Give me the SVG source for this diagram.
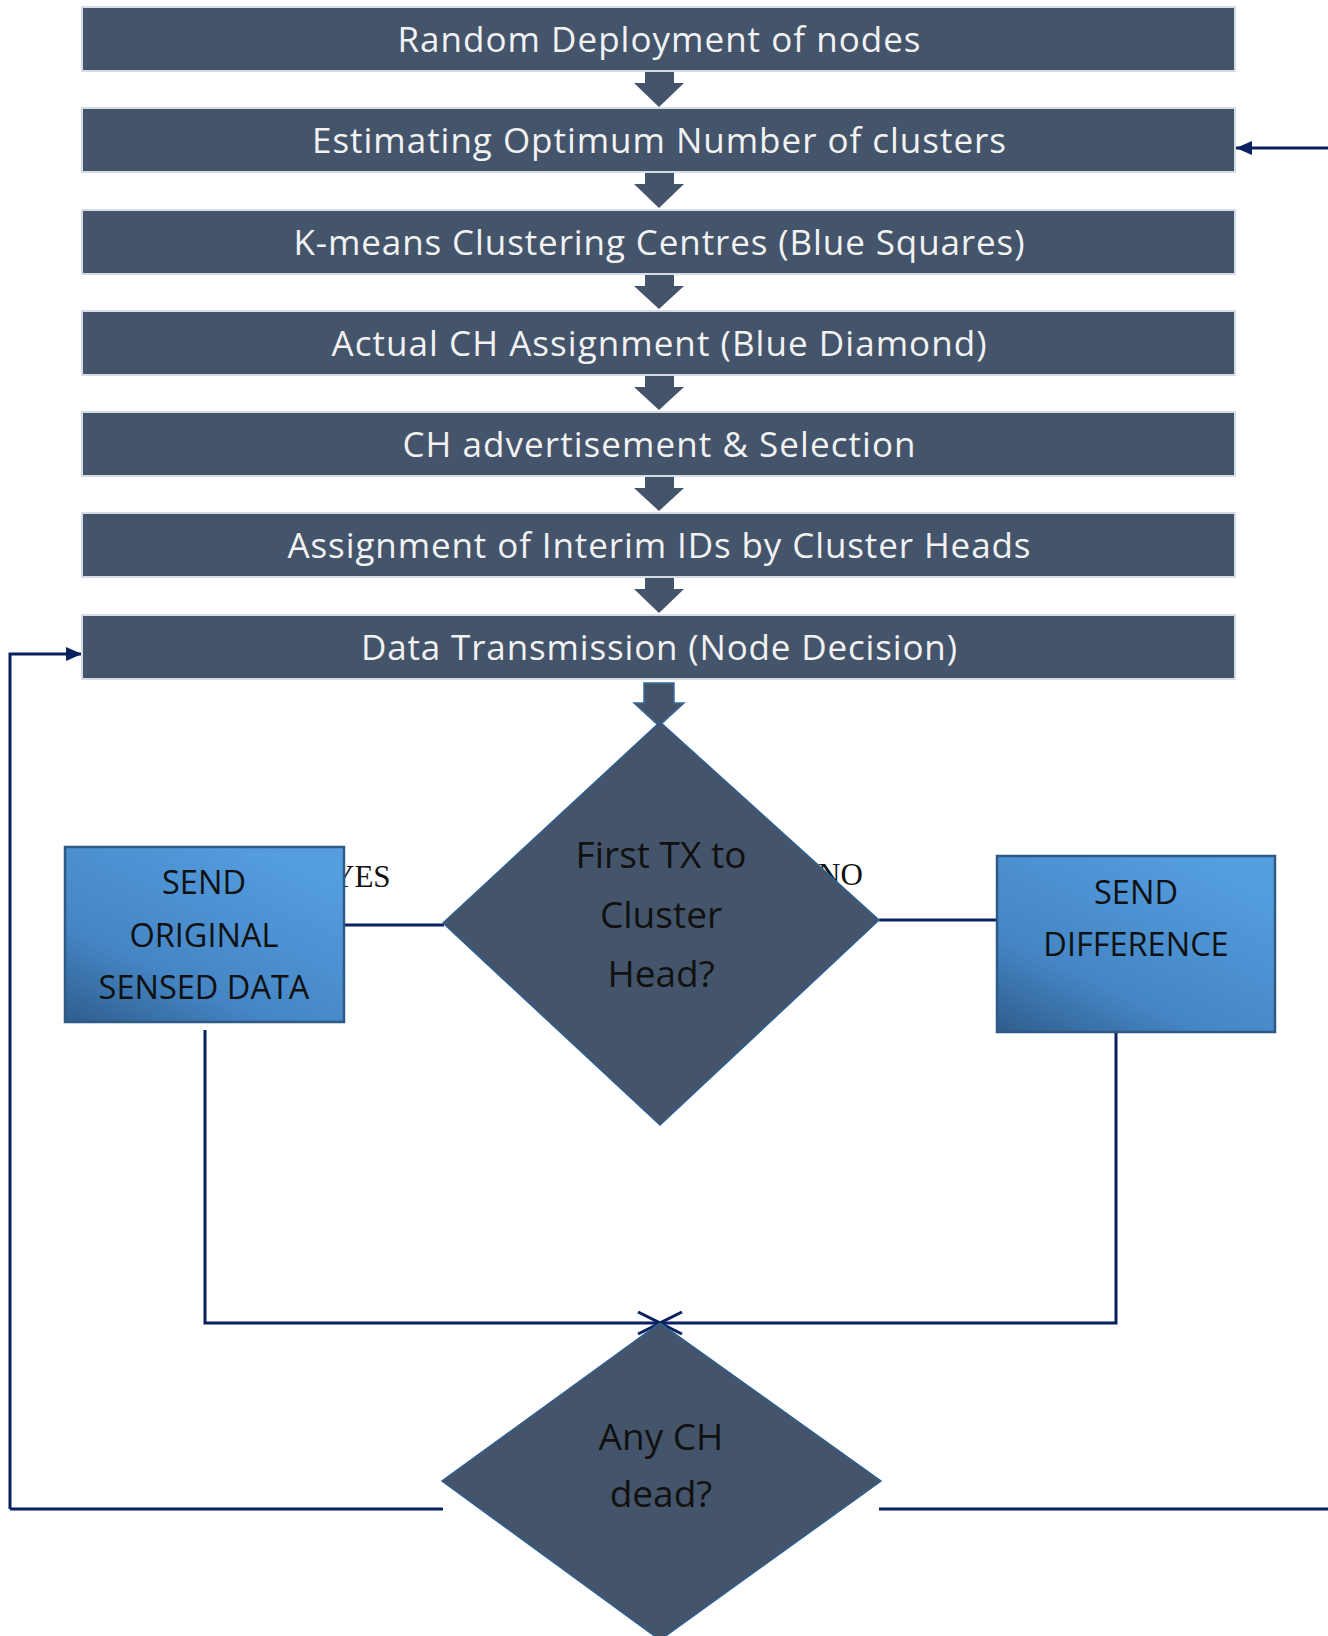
<svg xmlns="http://www.w3.org/2000/svg" width="1328" height="1636" viewBox="0 0 1328 1636">
<defs>
<style>
.bar{fill:#44546a;stroke:#d5dce6;stroke-width:2}
.bt{font-family:"Open Sans","Liberation Sans",sans-serif;font-size:35px;fill:#f2f2f2;text-anchor:middle}
.blk{fill:#44546a}
.dia{fill:#44546a;stroke:#2f5f8f;stroke-width:1.5}
.dt{font-family:"Open Sans","Liberation Sans",sans-serif;font-size:37px;fill:#111;text-anchor:middle}
.box{fill:url(#g);stroke:#2f5a86;stroke-width:2.5}
.bx{font-family:"Open Sans","Liberation Sans",sans-serif;font-size:32.5px;fill:#111;text-anchor:middle}
.lbl{font-family:"Liberation Serif",serif;font-size:31px;fill:#111}
.ln{fill:none;stroke:#0a2160;stroke-width:3}
</style>
<linearGradient id="g" x1="0" y1="1" x2="0.75" y2="0">
<stop offset="0" stop-color="#2e5d8c"/>
<stop offset="0.35" stop-color="#4585c4"/>
<stop offset="1" stop-color="#549ee0"/>
</linearGradient>
<marker id="ah" viewBox="0 0 16 14" refX="16" refY="7" markerWidth="16" markerHeight="14" markerUnits="userSpaceOnUse" orient="auto">
<path d="M0,0 L16,7 L0,14 Z" fill="#0a2160"/>
</marker>
<marker id="oh" viewBox="0 0 24 24" refX="23" refY="12" markerWidth="24" markerHeight="24" markerUnits="userSpaceOnUse" orient="auto">
<path d="M1,1 L23,12 L1,23" fill="none" stroke="#0a2160" stroke-width="3"/>
</marker>
</defs>
<rect width="1328" height="1636" fill="#ffffff"/>

<text class="lbl" x="332" y="887">YES</text>
<text class="lbl" x="818" y="885">NO</text>

<g id="connectors">
<polygon class="blk" points="645,71 674,71 674,83 684,83 659,107 634,83 645,83"/>
<polygon class="blk" points="645,172 674,172 674,184 684,184 659,208 634,184 645,184"/>
<polygon class="blk" points="645,274 674,274 674,286 684,286 659,309 634,286 645,286"/>
<polygon class="blk" points="645,375 674,375 674,387 684,387 659,410 634,387 645,387"/>
<polygon class="blk" points="645,476 674,476 674,488 684,488 659,511 634,488 645,488"/>
<polygon class="blk" points="645,577 674,577 674,589 684,589 659,613 634,589 645,589"/>
<polygon points="644,683 674,683 674,703 684,703 659,726 634,703 644,703" fill="#44546a" stroke="#3a6a9a" stroke-width="1.5"/>
<line class="ln" x1="1328" y1="148" x2="1236" y2="148" marker-end="url(#ah)"/>
<line class="ln" x1="344" y1="925" x2="444" y2="925"/>
<line class="ln" x1="879" y1="920" x2="997" y2="920"/>
<polyline class="ln" points="205,1030 205,1323 660,1323" marker-end="url(#oh)"/>
<polyline class="ln" points="1116,1032 1116,1323 660,1323" marker-end="url(#oh)"/>
<line class="ln" x1="443" y1="1509" x2="10" y2="1509"/>
<polyline class="ln" points="10,1509 10,654 82,654" marker-end="url(#ah)"/>
<line class="ln" x1="879" y1="1509" x2="1328" y2="1509"/>
</g>

<g id="n1"><rect class="bar" x="82" y="7" width="1153" height="64"/><text class="bt" x="659" y="52" textLength="523">Random Deployment of nodes</text></g>
<g id="n2"><rect class="bar" x="82" y="108" width="1153" height="64"/><text class="bt" x="659" y="153" textLength="694">Estimating Optimum Number of clusters</text></g>
<g id="n3"><rect class="bar" x="82" y="210" width="1153" height="64"/><text class="bt" x="659" y="255" textLength="731">K-means Clustering Centres (Blue Squares)</text></g>
<g id="n4"><rect class="bar" x="82" y="311" width="1153" height="64"/><text class="bt" x="659" y="356" textLength="655">Actual CH Assignment (Blue Diamond)</text></g>
<g id="n5"><rect class="bar" x="82" y="412" width="1153" height="64"/><text class="bt" x="659" y="457" textLength="513">CH advertisement &amp; Selection</text></g>
<g id="n6"><rect class="bar" x="82" y="513" width="1153" height="64"/><text class="bt" x="659" y="558" textLength="743">Assignment of Interim IDs by Cluster Heads</text></g>
<g id="n7"><rect class="bar" x="82" y="615" width="1153" height="64"/><text class="bt" x="659" y="660" textLength="596">Data Transmission (Node Decision)</text></g>

<g id="d1"><polygon class="dia" points="660,722 879,920 660,1125 443,923"/>
<text class="dt" x="661" y="868">First TX to</text>
<text class="dt" x="661" y="928">Cluster</text>
<text class="dt" x="661" y="987">Head?</text></g>

<g id="b1"><rect class="box" x="65" y="847" width="279" height="175"/>
<text class="bx" x="204" y="894">SEND</text>
<text class="bx" x="204" y="947">ORIGINAL</text>
<text class="bx" x="204" y="999">SENSED DATA</text></g>

<g id="b2"><rect class="box" x="997" y="856" width="278" height="176"/>
<text class="bx" x="1136" y="904">SEND</text>
<text class="bx" x="1136" y="956">DIFFERENCE</text></g>

<g id="d2"><polygon class="dia" points="660,1323 881,1481 660,1640 442,1481"/>
<text class="dt" x="661" y="1450">Any CH</text>
<text class="dt" x="661" y="1507">dead?</text></g>
</svg>
